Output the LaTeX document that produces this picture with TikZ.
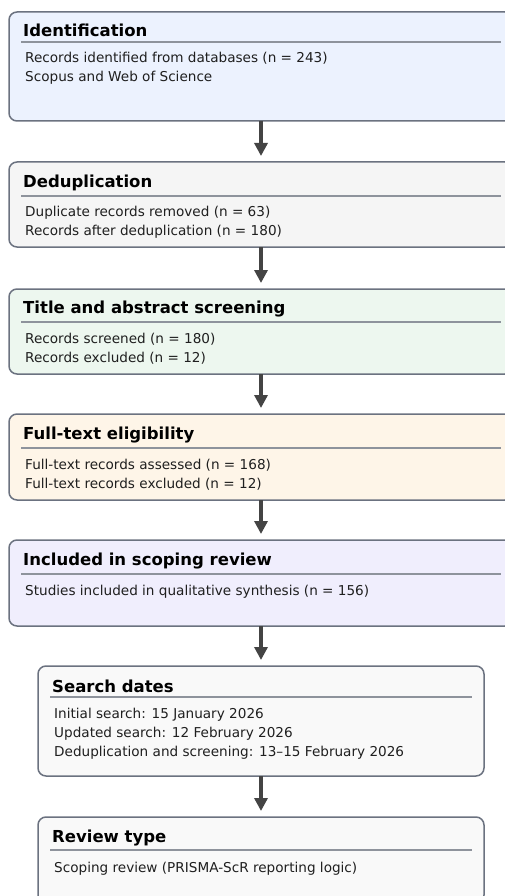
\documentclass[tikz,border=0pt]{standalone}
\usepackage{fontspec}
\setmainfont{DejaVu Sans}
\usetikzlibrary{arrows.meta,calc}
\definecolor{bordc}{HTML}{6B7280}
\definecolor{sepc}{HTML}{8E939C}
\definecolor{arrc}{HTML}{444444}
\definecolor{fIdent}{HTML}{ECF2FE}
\definecolor{fDedup}{HTML}{F5F5F5}
\definecolor{fScreen}{HTML}{EDF7EF}
\definecolor{fFull}{HTML}{FEF5E8}
\definecolor{fIncl}{HTML}{F0EEFD}
\definecolor{fInfo}{HTML}{F9F9F9}
\definecolor{bodyc}{HTML}{1F1F1F}
\begin{document}
\begin{tikzpicture}[x=1pt,y=-1pt,
  box/.style={draw=bordc,line width=1.5pt,rounded corners=8pt,anchor=north west,inner sep=0pt,outer sep=0pt},
  ttl/.style={anchor=base west,inner sep=0pt,font=\fontsize{16.5}{19}\selectfont\bfseries,text=black},
  bdy/.style={anchor=base west,inner sep=0pt,font=\fontsize{13.6}{19}\selectfont,text=bodyc},
  sepl/.style={draw=sepc,line width=1.2pt},
  arr/.style={draw=arrc,line width=3.5pt,-{Triangle[width=13pt,length=13pt]}}
]
\useasboundingbox (0,0) rectangle (505,896);
\clip (0,0) rectangle (505,896);
% boxes
\node[box,fill=fIdent,minimum width=504pt,minimum height=109pt] (b1) at (9,12) {};
\node[box,fill=fDedup,minimum width=504pt,minimum height=85pt] (b2) at (9,162) {};
\node[box,fill=fScreen,minimum width=504pt,minimum height=85pt] (b3) at (9,289) {};
\node[box,fill=fFull,minimum width=504pt,minimum height=86pt] (b4) at (9,414) {};
\node[box,fill=fIncl,minimum width=504pt,minimum height=86pt] (b5) at (9,540) {};
\node[box,fill=fInfo,minimum width=446pt,minimum height=110pt] (b6) at (38,666) {};
\node[box,fill=fInfo,minimum width=446pt,minimum height=86pt] (b7) at (38,817) {};
% titles
\node[ttl] (t1) at (23,37) {Identification};
\node[ttl] (t2) at (23,187) {Deduplication};
\node[ttl] (t3) at (23,313) {Title and abstract screening};
\node[ttl] (t4) at (23,439) {Full-text eligibility};
\node[ttl] (t5) at (23,565) {Included in scoping review};
\node[ttl] (t6) at (52,692) {Search dates};
\node[ttl] (t7) at (52,842) {Review type};
% separators
\draw[sepl] (21,42) -- (501,42);
\draw[sepl] (21,196) -- (501,196);
\draw[sepl] (21,322) -- (501,322);
\draw[sepl] (21,448) -- (501,448);
\draw[sepl] (21,574) -- (501,574);
\draw[sepl] (50,697) -- (472,697);
\draw[sepl] (50,850) -- (472,850);
% body lines
\node[bdy] (l1a) at (25,63) {Records identified from databases (n = 243)};
\node[bdy] (l1b) at (25,82) {Scopus and Web of Science};
\node[bdy] (l2a) at (25,216) {Duplicate records removed (n = 63)};
\node[bdy] (l2b) at (25,235) {Records after deduplication (n = 180)};
\node[bdy] (l3a) at (25,343) {Records screened (n = 180)};
\node[bdy] (l3b) at (25,362) {Records excluded (n = 12)};
\node[bdy] (l4a) at (25,469) {Full-text records assessed (n = 168)};
\node[bdy] (l4b) at (25,488) {Full-text records excluded (n = 12)};
\node[bdy] (l5a) at (25,595) {Studies included in qualitative synthesis (n = 156)};
\node[bdy] (l6a) at (54,718) {Initial search: 15 January 2026};
\node[bdy] (l6b) at (54,737) {Updated search: 12 February 2026};
\node[bdy] (l6c) at (54,756) {Deduplication and screening: 13–15 February 2026};
\node[bdy] (l7a) at (54,872) {Scoping review (PRISMA-ScR reporting logic)};
% arrows
\draw[arr] (b1.south) -- ([yshift=6pt]b2.north);
\draw[arr] (b2.south) -- ([yshift=6pt]b3.north);
\draw[arr] (b3.south) -- ([yshift=6pt]b4.north);
\draw[arr] (b4.south) -- ([yshift=6pt]b5.north);
\draw[arr] (b5.south) -- ([yshift=6pt]b6.north);
\draw[arr] (b6.south) -- ([yshift=6pt]b7.north);
\end{tikzpicture}
\end{document}
